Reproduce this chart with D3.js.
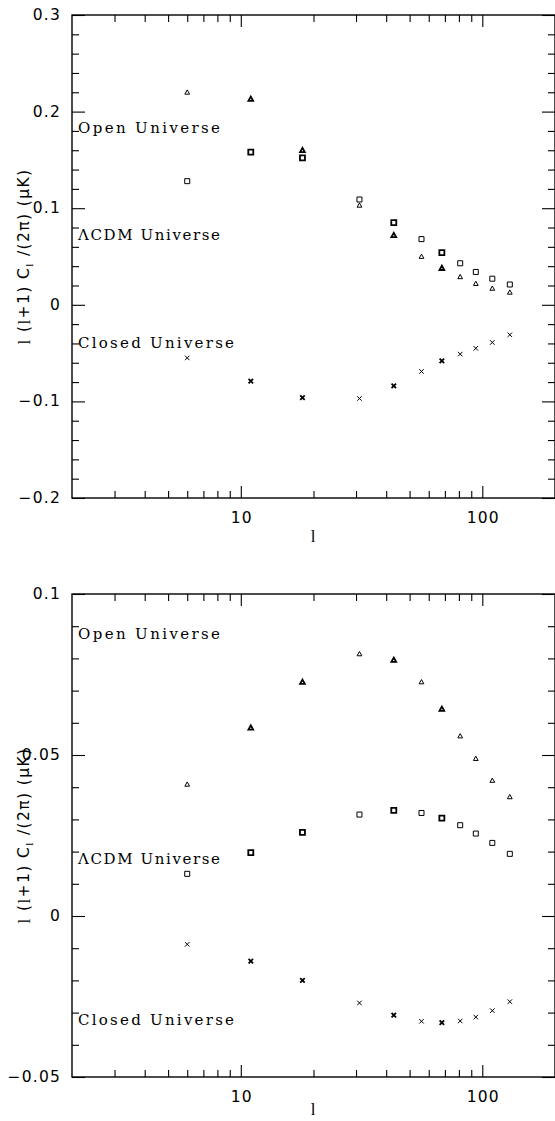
<!DOCTYPE html>
<html>
<head>
<meta charset="utf-8">
<script src="https://cdn.jsdelivr.net/npm/d3@7"></script>
<style>
  html, body { margin: 0; padding: 0; background: #fff; }
  svg { display: block; }
</style>
</head>
<body>
<svg id="chart" width="555" height="1121"></svg>
<script>
// ---------- data ----------
const ells = [6, 11, 18, 31, 43, 56, 68, 81, 94, 110, 130];
const emphasis = [0, 1, 1, 0, 1, 0, 1, 0, 0, 0, 0];

const openTop   = [0.220, 0.213, 0.160, 0.103, 0.072, 0.050, 0.038, 0.029, 0.022, 0.017, 0.013];
const lcdmTop   = [0.128, 0.158, 0.152, 0.109, 0.085, 0.068, 0.054, 0.043, 0.034, 0.027, 0.021];
const closedTop = [-0.055, -0.079, -0.096, -0.097, -0.084, -0.069, -0.058, -0.051, -0.045, -0.039, -0.031];

const openBot   = [0.0409, 0.0585, 0.0727, 0.0814, 0.0795, 0.0727, 0.0643, 0.0559, 0.0489, 0.0421, 0.0370];
const lcdmBot   = [0.0131, 0.0197, 0.0260, 0.0315, 0.0328, 0.0320, 0.0304, 0.0282, 0.0256, 0.0227, 0.0193];
const closedBot = [-0.0088, -0.0140, -0.0200, -0.0270, -0.0308, -0.0327, -0.0331, -0.0326, -0.0314, -0.0294, -0.0266];

const xDomain = [2, 200];
const xMajorTicks = [10, 100];
const xMajorLabels = ["10", "100"];
const xMinorTicks = [3,4,5,6,7,8,9,20,30,40,50,60,70,80,90];

const yDomainTop = [-0.2, 0.3];
const yMajorTop = [-0.2, -0.1, 0, 0.1, 0.2, 0.3];
const yMajorTopLabels = ["\u22120.2", "\u22120.1", "0", "0.1", "0.2", "0.3"];
const yMinorStepTop = 0.02;

const yDomainBot = [-0.05, 0.1];
const yMajorBot = [-0.05, 0, 0.05, 0.1];
const yMajorBotLabels = ["\u22120.05", "0", "0.05", "0.1"];
const yMinorStepBot = 0.01;

const seriesNames = ["Open Universe", "\u039BCDM Universe", "Closed Universe"];
const seriesMarkers = ["triangle", "square", "cross"];

// annotation anchor values (data y for label baselines)
const labelYTop = [0.1775, 0.067, -0.0445];
const labelYBot = [0.0861, 0.0161, -0.0337];

// ---------- layout ----------
const svg = d3.select("#chart");
const left = 72, right = 555;
const panels = [
  { top: 15,  bottom: 498,   yDomain: yDomainTop, yMajor: yMajorTop, yLabels: yMajorTopLabels, step: yMinorStepTop,
    series: [openTop, lcdmTop, closedTop], labelY: labelYTop, xLabelDy: 44 },
  { top: 594, bottom: 1077,  yDomain: yDomainBot, yMajor: yMajorBot, yLabels: yMajorBotLabels, step: yMinorStepBot,
    series: [openBot, lcdmBot, closedBot], labelY: labelYBot, xLabelDy: 38 }
];

const x = d3.scaleLog().domain(xDomain).range([left, right]);

const tickFont = "'DejaVu Sans', 'Liberation Sans', sans-serif";
const serifFont = "'DejaVu Serif', 'Liberation Serif', serif";
const lFont = "'Liberation Serif', 'DejaVu Serif', serif";

function markerPath(type, s) {
  const h = s / 2;
  if (type === "triangle") {
    const tri = s * 0.95;
    return `M${-tri/2},${tri*0.4}L${tri/2},${tri*0.4}L0,${-tri*0.5}Z`;
  }
  if (type === "square") {
    return `M${-h},${-h}L${h},${-h}L${h},${h}L${-h},${h}Z`;
  }
  return `M${-h},${-h}L${h},${h}M${-h},${h}L${h},${-h}`;
}

panels.forEach((p) => {
  const y = d3.scaleLinear().domain(p.yDomain).range([p.bottom, p.top]);
  const g = svg.append("g");

  const nMinor = Math.round((p.yDomain[1] - p.yDomain[0]) / p.step);
  const yMinor = d3.range(nMinor + 1).map(i => +(p.yDomain[0] + i * p.step).toFixed(4))
    .filter(v => !p.yMajor.some(m => Math.abs(m - v) < 1e-9));

  const minorLen = 7, majorLen = 13;
  const axes = [
    [d3.axisLeft(y).tickValues(yMinor).tickSize(-minorLen), `translate(${left},0)`],
    [d3.axisLeft(y).tickValues(p.yMajor).tickSize(-majorLen), `translate(${left},0)`],
    [d3.axisRight(y).tickValues(yMinor).tickSize(-minorLen), `translate(${right},0)`],
    [d3.axisRight(y).tickValues(p.yMajor).tickSize(-majorLen), `translate(${right},0)`],
    [d3.axisBottom(x).tickValues(xMinorTicks).tickSize(-minorLen), `translate(0,${p.bottom})`],
    [d3.axisBottom(x).tickValues(xMajorTicks).tickSize(-12), `translate(0,${p.bottom})`],
    [d3.axisTop(x).tickValues(xMinorTicks).tickSize(-minorLen), `translate(0,${p.top})`],
    [d3.axisTop(x).tickValues(xMajorTicks).tickSize(-12), `translate(0,${p.top})`]
  ];
  axes.forEach(([ax, tr]) => {
    const a = g.append("g").attr("transform", tr).call(ax.tickFormat(""));
    a.select(".domain").remove();
    a.selectAll("line").attr("stroke", "#000").attr("stroke-width", 1.1);
  });

  // tick labels
  g.append("g").selectAll("text").data(p.yMajor).join("text")
    .attr("x", 61).attr("y", d => y(d))
    .attr("text-anchor", "end").attr("dominant-baseline", "central")
    .attr("font-family", tickFont).attr("font-size", 15.5).attr("letter-spacing", 1.2)
    .text((d, i) => p.yLabels[i]);

  g.append("g").selectAll("text").data(xMajorTicks).join("text")
    .attr("x", d => x(d) + 1).attr("y", p.bottom + 25)
    .attr("text-anchor", "middle")
    .attr("font-family", tickFont).attr("font-size", 15.5).attr("letter-spacing", 1.2)
    .text((d, i) => xMajorLabels[i]);

  // frame
  g.append("rect").attr("x", left).attr("y", p.top)
    .attr("width", right - left).attr("height", p.bottom - p.top)
    .attr("fill", "none").attr("stroke", "#000").attr("stroke-width", 1.4);

  // x label
  g.append("text").attr("x", 313).attr("y", p.bottom + p.xLabelDy)
    .attr("text-anchor", "middle").attr("font-family", lFont).attr("font-size", 17)
    .text("l");

  // y label
  const cy = (p.top + p.bottom) / 2;
  const yl = g.append("text")
    .attr("transform", `translate(24,${cy}) rotate(-90)`)
    .attr("text-anchor", "middle").attr("dominant-baseline", "central")
    .attr("font-family", tickFont).attr("font-size", 15.5).attr("letter-spacing", 1.4);
  yl.append("tspan").attr("font-family", lFont).attr("font-size", 17).text("l");
  yl.append("tspan").text(" (");
  yl.append("tspan").attr("font-family", lFont).attr("font-size", 17).text("l");
  yl.append("tspan").text("+1) C");
  yl.append("tspan").attr("font-family", lFont).attr("font-size", 11).attr("dy", 5).text("l");
  yl.append("tspan").attr("dy", -5).text(" /(2\u03C0) (\u03BCK)");

  // series annotations
  seriesNames.forEach((name, i) => {
    g.append("text")
      .attr("x", 78).attr("y", y(p.labelY[i]))
      .attr("font-family", serifFont).attr("font-size", 15)
      .attr("textLength", i === 2 ? 156 : 142).attr("lengthAdjust", "spacing")
      .text(name);
  });

  // markers
  p.series.forEach((vals, si) => {
    g.append("g").selectAll("path").data(vals.map((v, i) => ({ l: ells[i], v, b: emphasis[i] })))
      .join("path")
      .attr("transform", d => `translate(${x(d.l)},${y(d.v)})`)
      .attr("d", d => markerPath(seriesMarkers[si], seriesMarkers[si] === "cross" ? 4.5 : 5))
      .attr("fill", "none").attr("stroke", "#000")
      .attr("stroke-width", d => d.b ? 1.8 : 1);
  });
});
</script>
</body>
</html>
